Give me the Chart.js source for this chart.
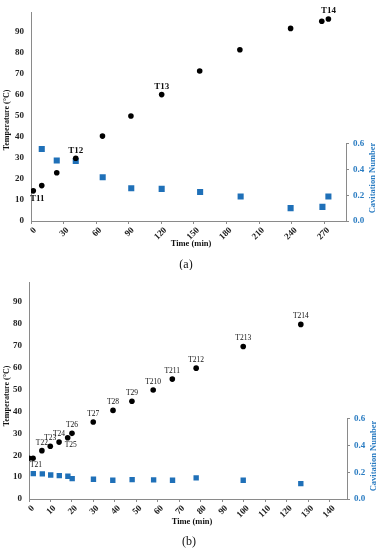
<!DOCTYPE html>
<html><head><meta charset="utf-8">
<script src="https://cdn.jsdelivr.net/npm/chart.js@4.4.0/dist/chart.umd.min.js"></script>
<style>
html,body{margin:0;padding:0;background:#fff;}
#wa{position:absolute;left:0;top:0;width:382px;height:270px;}
#wb{position:absolute;left:0;top:270px;width:382px;height:280px;}
</style></head>
<body>
<div id="wa"><canvas id="ca" width="382" height="270"></canvas></div>
<div id="wb"><canvas id="cb" width="382" height="280"></canvas></div>
<script>
// ---- Data: panel (a)
const timeA_T = [2.1, 9.9, 23.7, 41.2, 65.8, 92, 120.3, 155.3, 192.3, 239, 267.7, 273.8];
const tempA   = [14.3, 16.8, 22.9, 29.8, 40.3, 49.8, 60, 71.2, 81.3, 91.4, 94.8, 95.9];
const labelsA = ['T11','','','T12','','','T13','','','','','T14'];
const timeA_C = [9.9, 23.7, 41.2, 66, 92.3, 120.3, 155.7, 193, 239, 268.3, 273.8];
const cavA    = [0.56, 0.47, 0.467, 0.34, 0.255, 0.25, 0.225, 0.19, 0.10, 0.11, 0.19];
// ---- Data: panel (b)
const timeB_T = [0, 1.9, 6, 9.9, 14, 18, 20, 29.9, 39.1, 47.9, 57.8, 66.7, 77.8, 99.7, 126.5];
const tempB   = [18.6, 18.6, 22.1, 24.1, 26, 28, 30, 35.2, 40.5, 44.7, 49.8, 54.8, 59.8, 69.7, 79.8];
const labelsB = ['','T21','T22','T23','T24','T25','T26','T27','T28','T29','T210','T211','T212','T213','T214'];
const timeB_C = [2, 6.2, 10.1, 14.1, 18.1, 20.1, 30, 39, 48, 58, 66.8, 77.8, 99.7, 126.5];
const cavB    = [0.19, 0.188, 0.18, 0.175, 0.17, 0.153, 0.148, 0.14, 0.145, 0.143, 0.14, 0.158, 0.14, 0.115];
// tick settings
const xTicksA = {max: 290, step: 30};
const xTicksB = {max: 148, step: 10};

// label placement (a = above, b = below)
const placeA = ['b','a','a','a','a','a','a','a','a','a','a','a'];
const placeB = ['a','b','a','a','a','b','a','a','a','a','a','a','a','a','a'];

const SERIF = '"Liberation Serif", "DejaVu Serif", serif';
const BLUE = '#1f70b8';
const BLUE_T = '#2a7cc2';
const AX = '#8a8a8a';

function pts(xs, ys){ return xs.map((x,i)=>({x:x, y:ys[i]})); }

const annot = {
  id: 'annot',
  afterDraw(chart) {
    const c = chart.options.plugins.annot;
    const ctx = chart.ctx;
    ctx.save();
    ctx.textAlign = 'center'; ctx.textBaseline = 'middle';
    // point labels
    const meta = chart.getDatasetMeta(0);
    ctx.font = c.labelFont; ctx.fillStyle = '#111';
    c.labels.forEach((t, i) => {
      if (!t) return;
      const p = meta.data[i];
      const below = c.place[i] === 'b';
      const dx = below ? c.belowDx : 0;
      ctx.fillText(t, p.x + dx, p.y + (below ? c.belowDy : -c.aboveDy));
    });
    // x title
    ctx.font = 'bold 8.5px ' + SERIF; ctx.fillStyle = '#111';
    ctx.fillText('Time (min)', c.xTitleX, c.xTitleY);
    // left y title
    ctx.font = 'bold 8px ' + SERIF;
    ctx.save(); ctx.translate(c.yTitleX, c.yTitleY); ctx.rotate(-Math.PI/2);
    ctx.fillText('Temperature (°C)', 0, 0); ctx.restore();
    // right y title
    ctx.font = 'bold 8.5px ' + SERIF;
    ctx.fillStyle = BLUE_T;
    ctx.save(); ctx.translate(c.y2TitleX, c.y2TitleY); ctx.rotate(-Math.PI/2);
    ctx.fillText('Cavitation Number', 0, 0); ctx.restore();
    // panel label
    ctx.font = '12px ' + SERIF; ctx.fillStyle = '#111';
    ctx.fillText(c.panel, c.panelX, c.panelY);
    ctx.restore();
  }
};

function makeChart(id, o) {
  return new Chart(document.getElementById(id), {
    type: 'scatter',
    data: {
      datasets: [
        {data: pts(o.tx, o.ty), yAxisID: 'y', pointStyle: 'circle', pointRadius: 2.8,
         backgroundColor: '#000', borderColor: '#000', borderWidth: 0, showLine: false},
        {data: pts(o.cx, o.cy), yAxisID: 'y2', pointStyle: 'rect', pointRadius: o.sq,
         backgroundColor: BLUE, borderColor: BLUE, borderWidth: 0, showLine: false}
      ]
    },
    options: {
      responsive: false, animation: false, devicePixelRatio: 1,
      layout: {padding: {top: o.padTop, left: 0, right: 0, bottom: 0}},
      plugins: {legend: {display: false}, tooltip: {enabled: false},
        annot: o.annot},
      scales: {
        x: {
          type: 'linear', position: 'bottom', min: 0, max: o.xmax,
          afterFit: s => { s.height = o.xh; },
          grid: {display: true, drawOnChartArea: false, drawTicks: true, tickLength: 3, color: AX},
          border: {display: true, color: AX, width: 1},
          ticks: {stepSize: o.xstep, includeBounds: false, autoSkip: false, minRotation: 45, maxRotation: 45,
            padding: 1, labelOffset: 4, color: '#222', font: {family: SERIF, size: 9, weight: 'bold'}}
        },
        y: {
          type: 'linear', position: 'left', min: 0, max: 99,
          afterFit: s => { s.width = o.yw; },
          grid: {display: false, drawTicks: false},
          border: {display: true, color: AX, width: 1},
          ticks: {stepSize: 10, includeBounds: false, padding: 7, color: '#222',
            font: {family: SERIF, size: 9, weight: 'bold'}}
        },
        yTop: {
          type: 'linear', position: 'right', stack: 'r', stackWeight: 0.63, min: 0, max: 1,
          afterFit: s => { s.width = o.rw; },
          grid: {display: false, drawTicks: false}, border: {display: false}, ticks: {display: false}
        },
        y2: {
          type: 'linear', position: 'right', stack: 'r', stackWeight: 0.37, min: 0, max: 0.6,
          afterFit: s => { s.width = o.rw; },
          grid: {display: true, drawOnChartArea: false, drawTicks: true, tickLength: 3, color: AX},
          border: {display: true, color: AX, width: 1},
          ticks: {stepSize: 0.1, padding: 4, color: BLUE_T, callback: v => v.toFixed(1),
            font: {family: SERIF, size: 9, weight: 'bold'}}
        }
      }
    },
    plugins: [annot]
  });
}

makeChart('ca', {
  tx: timeA_T, ty: tempA, cx: timeA_C, cy: cavA, sq: 4.3,
  xmax: xTicksA.max, xstep: xTicksA.step, padTop: 5, xh: 49, yw: 31, rw: 36,
  annot: {labels: labelsA, place: placeA, labelFont: 'bold 9px ' + SERIF,
    aboveDy: 8, belowDy: 8, belowDx: 4,
    xTitleX: 191, xTitleY: 244, yTitleX: 7, yTitleY: 120, y2TitleX: 373, y2TitleY: 178,
    panel: '(a)', panelX: 186, panelY: 265}
});
makeChart('cb', {
  tx: timeB_T, ty: tempB, cx: timeB_C, cy: cavB, sq: 3.8,
  xmax: xTicksB.max, xstep: xTicksB.step, padTop: 12, xh: 51, yw: 29, rw: 35,
  annot: {labels: labelsB, place: placeB, labelFont: '7.5px ' + SERIF,
    aboveDy: 8, belowDy: 7, belowDx: 3,
    xTitleX: 192, xTitleY: 252, yTitleX: 7, yTitleY: 126, y2TitleX: 374, y2TitleY: 186,
    panel: '(b)', panelX: 189, panelY: 272}
});
</script>
</body></html>
